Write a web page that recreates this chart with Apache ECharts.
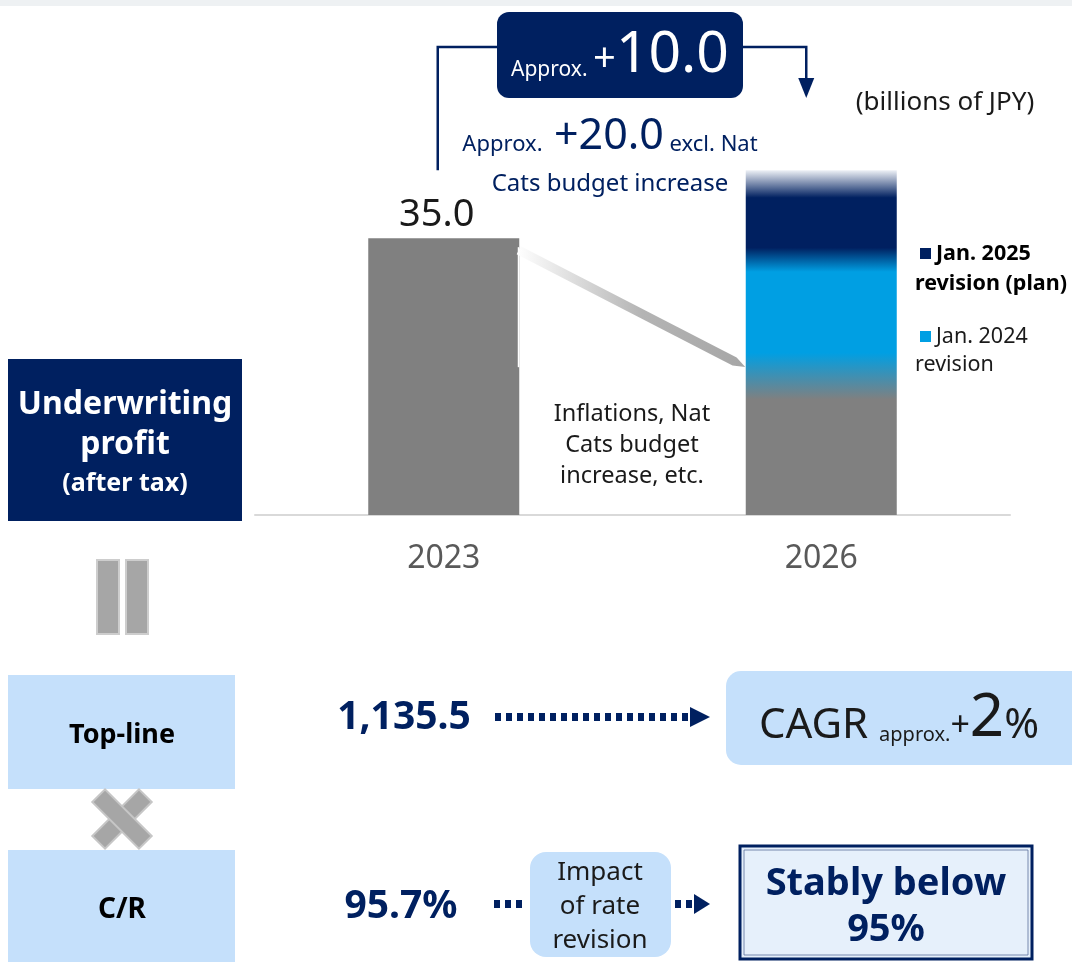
<!DOCTYPE html>
<html>
<head>
<meta charset="utf-8">
<script src="https://cdn.jsdelivr.net/npm/echarts@6/dist/echarts.min.js"></script>
<style>
  html, body { margin: 0; padding: 0; background: #fff; }
  #main { width: 1072px; height: 962px; }
</style>
</head>
<body>
<div id="main"></div>
<script>
const categories = ['2023', '2026']
const profit = [35.0, 43.6]
const profitLabels = ['35.0', '']
const planIncrease = '10.0'
const exclNatCatsIncrease = '20.0'
const legendNames = [['Jan. 2025', 'revision (plan)'], ['Jan. 2024', 'revision']]
const kpiNames = ['Top-line', 'C/R']
const kpi2023 = ['1,135.5', '95.7%']
const cagrPct = '2'
const crTarget = ['Stably below', '95%']

const NAVY = '#002060', SKY = '#009fe3', GRAY = '#808080', PALE = '#c5e0fb'
const FONT = '"Noto Sans", "Open Sans", sans-serif'

var myChart = echarts.init(document.getElementById('main'))

// 2026 bar: gray base, fading through the 2024 plan (sky) into the 2025 plan (navy)
const barColors = [
  GRAY,
  new echarts.graphic.LinearGradient(0, 0, 0, 1, [
    { offset: 0, color: '#eef1f6' },
    { offset: 0.08, color: NAVY },
    { offset: 0.225, color: NAVY },
    { offset: 0.295, color: SKY },
    { offset: 0.53, color: SKY },
    { offset: 0.665, color: GRAY },
    { offset: 1, color: GRAY }
  ])
]

option = {
  animation: false,
  textStyle: { fontFamily: FONT },
  grid: { left: 255, right: 62, top: 167, bottom: 447 },
  xAxis: {
    type: 'category',
    data: categories,
    axisLine: { lineStyle: { color: '#d9d9d9', width: 2 } },
    axisTick: { show: false },
    axisLabel: { fontSize: 32, color: '#595959', margin: 28, fontFamily: FONT }
  },
  yAxis: { type: 'value', min: 0, max: 44, show: false },
  series: [
    {
      type: 'bar',
      barWidth: 151,
      data: profit.map((v, i) => ({
        value: v,
        itemStyle: { color: barColors[i] },
        label: { show: !!profitLabels[i], formatter: profitLabels[i] }
      })),
      label: { position: 'top', distance: 4, fontSize: 38, color: '#1a1a1a', offset: [-7, 0], fontFamily: FONT }
    }
  ]
}
myChart.setOption(option)

function txt(x, y, text, o) {
  o = o || {}
  return {
    type: 'text', x: x, y: y, z: 10,
    style: {
      text: text,
      fill: o.fill || '#1a1a1a',
      fontSize: o.size || 22,
      fontWeight: o.bold ? 'bold' : 'normal',
      fontFamily: FONT,
      align: o.align || 'center',
      verticalAlign: 'middle',
      lineHeight: o.lh,
      rich: o.rich
    }
  }
}
function rt(size, fill, pb, bold) {
  return { fontSize: size, fill: fill, fontFamily: FONT, fontWeight: bold ? 'bold' : 'normal', verticalAlign: 'bottom', lineHeight: size, padding: [0, 0, pb || 0, 0] }
}

const p0 = myChart.convertToPixel({ seriesIndex: 0 }, [0, profit[0]])
const p1 = myChart.convertToPixel({ seriesIndex: 0 }, [1, profit[1]])

// diagonal arrow between bars
const ax = p0[0] + 75, ay = p0[1] + 12, bx = p1[0] - 76, by = 367
const len = Math.hypot(bx - ax, by - ay), ux = (bx - ax) / len, uy = (by - ay) / len
const nx = -uy * 4.5, ny = ux * 4.5
const hx = bx - ux * 12, hy = by - uy * 12

const g = [
  { type: 'rect', shape: { x: 0, y: 0, width: 1072, height: 6 }, style: { fill: '#eef1f3' } },
  { type: 'rect', shape: { x: p0[0] + 74, y: p0[1] + 9, width: 1.5, height: 120 }, style: { fill: '#fff' }, z: 5 },
  {
    type: 'polygon', z: 5,
    shape: { points: [[ax + nx, ay + ny], [hx + nx, hy + ny], [bx, by], [hx - nx, hy - ny], [ax - nx, ay - ny]] },
    style: { fill: { type: 'linear', x: 0, y: 0, x2: 1, y2: 0, colorStops: [{ offset: 0, color: '#ffffff' }, { offset: 0.55, color: '#b4b4b4' }, { offset: 1, color: '#a6a6a6' }] } }
  },
  // bracket with arrow
  {
    type: 'polyline', z: 5,
    shape: { points: [[p0[0] - 6, p1[1]], [p0[0] - 6, 47], [p1[0] - 15, 47], [p1[0] - 15, 80]] },
    style: { stroke: NAVY, lineWidth: 2.5, fill: null }
  },
  { type: 'polygon', shape: { points: [[p1[0] - 23, 78], [p1[0] - 7, 78], [p1[0] - 15, 98]] }, style: { fill: NAVY } },
  { type: 'rect', shape: { x: 497, y: 12, width: 246, height: 86, r: 12 }, style: { fill: NAVY }, z: 6 },
  txt(620, 56, '{a|Approx. }{p|+}{b|' + planIncrease + '}', {
    fill: '#fff',
    rich: { a: rt(21, '#fff', 4), p: rt(40, '#fff', 5), b: rt(57, '#fff', 0) }
  }),
  txt(610, 137, '{a|Approx.  }{b|+' + exclNatCatsIncrease + '}{a| excl. Nat}', {
    fill: NAVY,
    rich: { a: rt(22, NAVY, 3), b: rt(43, NAVY, 0) }
  }),
  txt(610, 184, 'Cats budget increase', { fill: NAVY, size: 24 }),
  txt(945, 103, '(billions of JPY)', { size: 26 }),
  txt(632, 445, 'Inflations, Nat\nCats budget\nincrease, etc.', { size: 23.5, lh: 31 }),

  // legend
  { type: 'rect', shape: { x: 920, y: 248, width: 11, height: 11 }, style: { fill: NAVY } },
  txt(936, 254, legendNames[0][0], { align: 'left', bold: true, size: 21.5, fill: '#000' }),
  txt(915, 284, legendNames[0][1], { align: 'left', bold: true, size: 21.5, fill: '#000' }),
  { type: 'rect', shape: { x: 920, y: 331, width: 11, height: 11 }, style: { fill: SKY } },
  txt(936, 337, legendNames[1][0], { align: 'left', size: 21.5, fill: '#1a1a1a' }),
  txt(915, 365, legendNames[1][1], { align: 'left', size: 21.5, fill: '#1a1a1a' }),

  // left column
  { type: 'rect', shape: { x: 8, y: 359, width: 234, height: 162 }, style: { fill: NAVY } },
  txt(125, 425, 'Underwriting\nprofit', { fill: '#fff', bold: true, size: 32, lh: 40 }),
  txt(125, 484, '(after tax)', { fill: '#fff', bold: true, size: 25 }),
  { type: 'rect', shape: { x: 97, y: 560, width: 22, height: 74 }, style: { fill: '#a6a6a6', stroke: '#cdcdcd', lineWidth: 2 } },
  { type: 'rect', shape: { x: 126, y: 560, width: 22, height: 74 }, style: { fill: '#a6a6a6', stroke: '#cdcdcd', lineWidth: 2 } },
  { type: 'rect', shape: { x: 8, y: 675, width: 227, height: 114 }, style: { fill: PALE } },
  txt(122, 735, kpiNames[0], { bold: true, size: 27, fill: '#000' }),
  { type: 'rect', x: 122, y: 819, rotation: Math.PI / 4, shape: { x: -33, y: -9, width: 66, height: 18 }, style: { fill: '#a6a6a6', stroke: '#c6c6c6', lineWidth: 2 } },
  { type: 'rect', x: 122, y: 819, rotation: -Math.PI / 4, shape: { x: -33, y: -9, width: 66, height: 18 }, style: { fill: '#a6a6a6', stroke: '#c6c6c6', lineWidth: 2 } },
  { type: 'rect', shape: { x: 8, y: 850, width: 227, height: 112 }, style: { fill: PALE } },
  txt(122, 910, kpiNames[1], { bold: true, size: 28, fill: '#000' }),

  // top-line row
  txt(404, 718, kpi2023[0], { bold: true, size: 39, fill: NAVY }),
  { type: 'line', shape: { x1: 495, y1: 717, x2: 690, y2: 717 }, style: { stroke: NAVY, lineWidth: 8, lineDash: [6, 5] } },
  { type: 'polygon', shape: { points: [[690, 707], [710, 717], [690, 727]] }, style: { fill: NAVY } },
  { type: 'rect', shape: { x: 726, y: 671, width: 360, height: 94, r: 15 }, style: { fill: PALE } },
  txt(899, 719, '{c|CAGR }{s|approx.}{p|+}{n|' + cagrPct + '}{c|%}', {
    rich: { c: rt(42, '#1a1a1a', 2), s: rt(20, '#1a1a1a', 4), p: rt(34, '#1a1a1a', 6), n: rt(60, '#1a1a1a', 0) }
  }),

  // C/R row
  txt(401, 907, kpi2023[1], { bold: true, size: 39, fill: NAVY }),
  { type: 'line', shape: { x1: 494, y1: 904, x2: 527, y2: 904 }, style: { stroke: NAVY, lineWidth: 8, lineDash: [6, 5] } },
  { type: 'rect', shape: { x: 530, y: 852, width: 141, height: 105, r: 16 }, style: { fill: PALE } },
  txt(600, 907, 'Impact\nof rate\nrevision', { size: 26, lh: 34 }),
  { type: 'line', shape: { x1: 675, y1: 904, x2: 692, y2: 904 }, style: { stroke: NAVY, lineWidth: 8, lineDash: [6, 5] } },
  { type: 'polygon', shape: { points: [[694, 894], [710, 904], [694, 914]] }, style: { fill: NAVY } },
  { type: 'rect', shape: { x: 740, y: 846, width: 292, height: 113 }, style: { fill: '#e6f0fb', stroke: NAVY, lineWidth: 3 } },
  { type: 'rect', shape: { x: 744, y: 850, width: 284, height: 105 }, style: { fill: null, stroke: '#5b6f9c', lineWidth: 0.8 } },
  txt(886, 907, crTarget.join('\n'), { bold: true, size: 38, fill: NAVY, lh: 46 })
]

myChart.setOption({ graphic: g })
</script>
</body>
</html>
